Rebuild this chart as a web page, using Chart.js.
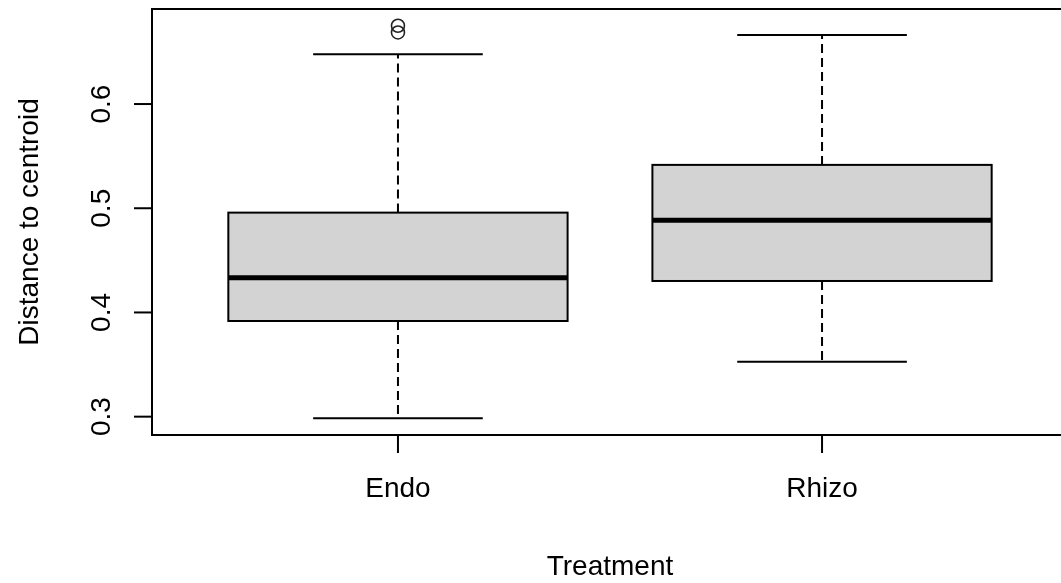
<!DOCTYPE html>
<html>
<head>
<meta charset="utf-8">
<title>Distance to centroid by treatment</title>
<script src="https://cdn.jsdelivr.net/npm/chart.js@4.4.1/dist/chart.umd.min.js"></script>
<style>
  html, body { margin: 0; padding: 0; background: #fff; overflow: hidden; }
  #wrap { width: 1080px; height: 583px; }
</style>
</head>
<body>
<div id="wrap"><canvas id="boxChart" width="1080" height="583"></canvas></div>
<script>
// ===== Values =====
const groups      = ['Endo', 'Rhizo'];
const whiskerLow  = [0.2985, 0.3528];
const quartile1   = [0.3918, 0.4302];
const medians     = [0.4334, 0.4885];
const quartile3   = [0.4958, 0.5416];
const whiskerHigh = [0.6478, 0.6663];
const outlierGroup  = [1, 1];
const outlierValues = [0.6751, 0.6687];
const yTicks = [0.3, 0.4, 0.5, 0.6];
const xTitle = 'Treatment';
const yTitle = 'Distance to centroid';

const FONT = '28px "Liberation Sans", Arial, sans-serif';

// ===== Draws the boxes and the axes in base-R style =====
const rBoxplot = {
    id: 'rBoxplot',
    beforeDatasetsDraw(chart) {
        const { ctx, scales: { x, y } } = chart;
        ctx.save();
        ctx.strokeStyle = '#000';
        groups.forEach((g, i) => {
            const cx = x.getPixelForValue(i + 1);
            const left = x.getPixelForValue(i + 1 - 0.4);
            const right = x.getPixelForValue(i + 1 + 0.4);
            const capL = x.getPixelForValue(i + 1 - 0.2);
            const capR = x.getPixelForValue(i + 1 + 0.2);
            const yLo = y.getPixelForValue(whiskerLow[i]);
            const yQ1 = y.getPixelForValue(quartile1[i]);
            const yMed = y.getPixelForValue(medians[i]);
            const yQ3 = y.getPixelForValue(quartile3[i]);
            const yHi = y.getPixelForValue(whiskerHigh[i]);

            // dashed whiskers
            ctx.lineWidth = 2;
            ctx.setLineDash([9, 5]);
            ctx.beginPath();
            ctx.moveTo(cx, yQ3); ctx.lineTo(cx, yHi);
            ctx.moveTo(cx, yQ1); ctx.lineTo(cx, yLo);
            ctx.stroke();
            ctx.setLineDash([]);

            // whisker caps
            ctx.beginPath();
            ctx.moveTo(capL, yHi); ctx.lineTo(capR, yHi);
            ctx.moveTo(capL, yLo); ctx.lineTo(capR, yLo);
            ctx.stroke();

            // box
            ctx.fillStyle = '#d3d3d3';
            ctx.fillRect(left, yQ3, right - left, yQ1 - yQ3);
            ctx.strokeRect(left, yQ3, right - left, yQ1 - yQ3);

            // median
            ctx.lineWidth = 5;
            ctx.beginPath();
            ctx.moveTo(left, yMed); ctx.lineTo(right, yMed);
            ctx.stroke();
        });
        ctx.restore();
    },
    afterDraw(chart) {
        const { ctx, chartArea: a, scales: { x, y } } = chart;
        ctx.save();
        ctx.strokeStyle = '#000';
        ctx.fillStyle = '#000';
        ctx.lineWidth = 2;
        ctx.strokeRect(a.left, a.top, a.right - a.left, a.bottom - a.top);

        // y axis ticks + rotated labels
        ctx.font = FONT;
        ctx.textAlign = 'center';
        ctx.textBaseline = 'alphabetic';
        yTicks.forEach(v => {
            const py = y.getPixelForValue(v);
            ctx.beginPath();
            ctx.moveTo(a.left, py); ctx.lineTo(a.left - 18, py);
            ctx.stroke();
            ctx.save();
            ctx.translate(110, py);
            ctx.rotate(-Math.PI / 2);
            ctx.fillText(v.toFixed(1), 0, 0);
            ctx.restore();
        });

        // x axis ticks + labels
        groups.forEach((g, i) => {
            const px = x.getPixelForValue(i + 1);
            ctx.beginPath();
            ctx.moveTo(px, a.bottom); ctx.lineTo(px, a.bottom + 18);
            ctx.stroke();
            ctx.fillText(g, px, 497);
        });

        // axis titles
        ctx.fillText(xTitle, (a.left + a.right) / 2, 575);
        ctx.save();
        ctx.translate(38, (a.top + a.bottom) / 2);
        ctx.rotate(-Math.PI / 2);
        ctx.fillText(yTitle, 0, 0);
        ctx.restore();
        ctx.restore();
    }
};

// ===== Build chart =====
new Chart(document.getElementById('boxChart'), {
    type: 'scatter',
    data: {
        datasets: [{
            label: 'outliers',
            data: outlierGroup.map((g, k) => ({ x: g, y: outlierValues[k] })),
            pointStyle: 'circle',
            pointRadius: 6.5,
            pointBorderWidth: 1.6,
            borderColor: '#222',
            backgroundColor: 'rgba(0,0,0,0)'
        }]
    },
    options: {
        responsive: false,
        animation: false,
        devicePixelRatio: 1,
        layout: { padding: { left: 152, right: 12, top: 9, bottom: 148 } },
        plugins: { legend: { display: false }, tooltip: { enabled: false } },
        scales: {
            x: { type: 'linear', min: 0.42, max: 2.58, display: false },
            y: { type: 'linear', min: 0.2824, max: 0.6912, display: false }
        }
    },
    plugins: [rBoxplot]
});
</script>
</body>
</html>
